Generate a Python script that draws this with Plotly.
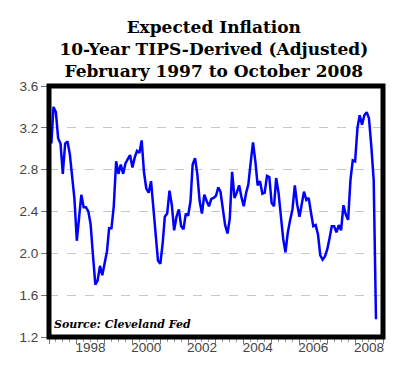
import pandas as pd
import plotly.graph_objects as go

# Monthly expected inflation, Feb 1997 .. Oct 2008
start_month = "1997-02-01"
values = [
    3.05, 3.40, 3.35, 3.10, 3.05, 2.76, 3.05, 3.07, 2.95, 2.74, 2.52,   # 1997
    2.12, 2.35, 2.56, 2.44, 2.44, 2.40, 2.28, 1.98, 1.70, 1.74, 1.88, 1.79,  # 1998
    1.90, 2.02, 2.24, 2.24, 2.45, 2.88, 2.76, 2.85, 2.76, 2.86, 2.90, 2.94,  # 1999
    2.82, 2.92, 2.98, 2.96, 3.08, 2.77, 2.62, 2.58, 2.69, 2.45, 2.18, 1.93,  # 2000
    1.90, 2.10, 2.35, 2.38, 2.60, 2.46, 2.22, 2.35, 2.42, 2.26, 2.23, 2.38,  # 2001
    2.36, 2.50, 2.85, 2.91, 2.76, 2.50, 2.38, 2.56, 2.50, 2.45, 2.52, 2.53,  # 2002
    2.55, 2.63, 2.59, 2.42, 2.27, 2.19, 2.33, 2.78, 2.53, 2.58, 2.65, 2.54,  # 2003
    2.45, 2.58, 2.66, 2.87, 3.06, 2.88, 2.65, 2.69, 2.57, 2.58, 2.74, 2.73,  # 2004
    2.48, 2.45, 2.72, 2.58, 2.35, 2.14, 2.01, 2.20, 2.32, 2.42, 2.65, 2.47,  # 2005
    2.35, 2.50, 2.59, 2.51, 2.53, 2.39, 2.26, 2.27, 2.18, 1.98, 1.94, 1.97,  # 2006
    2.04, 2.15, 2.26, 2.26, 2.20, 2.27, 2.22, 2.46, 2.37, 2.32, 2.70, 2.89,  # 2007
    2.88, 3.20, 3.32, 3.23, 3.32, 3.35, 3.29, 3.02, 2.70, 1.37,              # 2008
]
dates = pd.date_range(start_month, periods=len(values), freq="MS")

label_years = [1998, 2000, 2002, 2004, 2006, 2008]
tick_years = list(range(1997, 2010))
y_ticks = [1.2, 1.6, 2.0, 2.4, 2.8, 3.2, 3.6]

title_lines = ["Expected Inflation", "10-Year TIPS-Derived (Adjusted)",
               "February 1997 to October 2008"]
source_text = "Source: Cleveland Fed"

x_range = ["1997-01-01", "2009-01-01"]

fig = go.Figure()
fig.add_trace(go.Scatter(x=dates, y=values, mode="lines",
                         line=dict(color="#0000ff", width=2.5),
                         hoverinfo="skip", showlegend=False))
# invisible trace carrying the year tick axis
fig.add_trace(go.Scatter(x=dates, y=values, mode="lines", xaxis="x2",
                         line=dict(color="rgba(0,0,0,0)", width=0),
                         hoverinfo="skip", showlegend=False))

tickfont = dict(family="Liberation Sans, Arial, sans-serif", size=13.5, color="#444444")

fig.update_layout(
    width=392, height=359,
    margin=dict(l=35, r=17, t=78, b=29),
    paper_bgcolor="white", plot_bgcolor="white",
    title=dict(text="<br>".join(title_lines),
               font=dict(family="DejaVu Serif", size=17, color="black", weight="bold"),
               x=0.525, xanchor="center", y=0.93, yanchor="top", yref="container"),
    xaxis=dict(type="date", range=x_range,
               tickmode="array",
               tickvals=[f"{y}-07-01" for y in label_years],
               ticktext=[str(y) for y in label_years],
               ticks="", tickfont=tickfont, showgrid=False, zeroline=False,
               showline=False),
    xaxis2=dict(type="date", range=x_range, overlaying="x", anchor="y", side="bottom",
                tickmode="array", tickvals=[f"{y}-01-01" for y in tick_years],
                ticks="outside", ticklen=6, tickwidth=1, tickcolor="#777",
                showticklabels=False, showgrid=False, zeroline=False, showline=False,
                minor=dict(ticks="outside", dtick="M3", tick0="1997-01-01",
                           ticklen=4, tickwidth=1, tickcolor="#999", showgrid=False)),
    yaxis=dict(range=[1.2, 3.6], tickmode="array", tickvals=y_ticks,
               ticktext=[f"{v:.1f}" for v in y_ticks],
               ticks="outside", ticklen=7, tickcolor="#777", tickfont=tickfont,
               showgrid=True, gridcolor="#c8c8c8", griddash="dash", gridwidth=1,
               zeroline=False, showline=False),
    shapes=[dict(type="rect", xref="paper", yref="paper", x0=0, y0=0, x1=1, y1=1,
                 line=dict(color="black", width=5), layer="above")],
    annotations=[dict(text=f"<b><i>{source_text}</i></b>", xref="paper", yref="paper",
                      x=0.01, y=0.014, xanchor="left", yanchor="bottom", showarrow=False,
                      font=dict(family="DejaVu Serif", size=11, color="black"))],
)

fig.write_html("out.html")
